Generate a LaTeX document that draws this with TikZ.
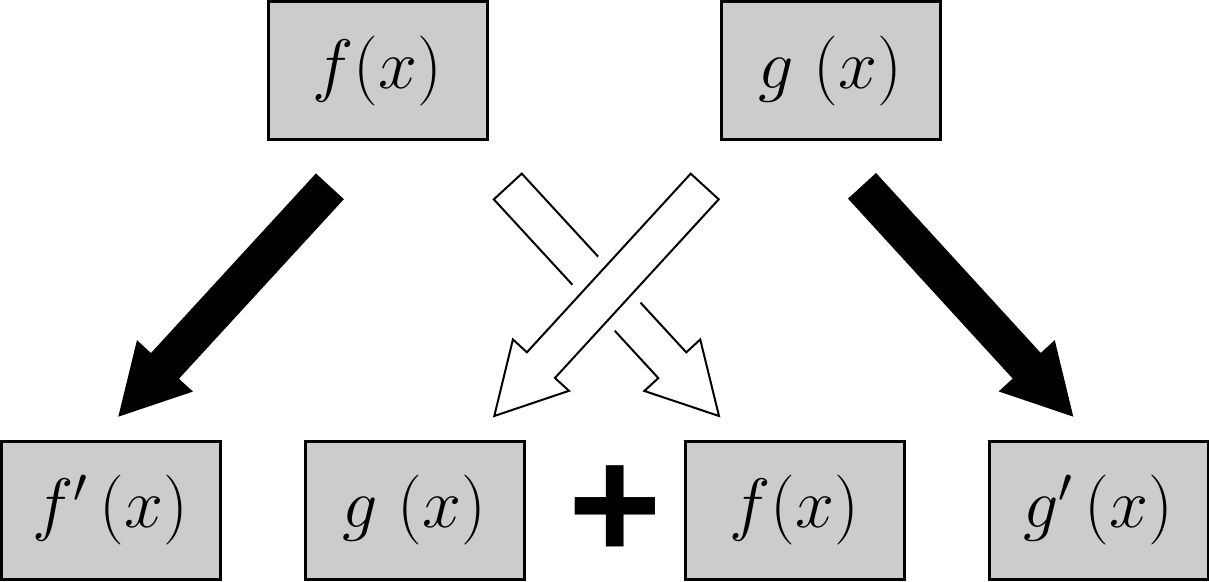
\RequirePackage{fix-cm}
\documentclass[tikz,border=0pt]{standalone}
\usepackage{fontspec}
\newfontfamily\plusfont{Liberation Sans}
\usetikzlibrary{calc}
\definecolor{boxgray}{HTML}{CCCCCC}
\newcommand\blockarrow[3]{%
  \path let \p1=($(#3)-(#2)$) in \pgfextra{\pgfmathsetmacro\baang{atan2(\y1,\x1)}\pgfmathsetmacro\balen{veclen(\x1,\y1)}\xdef\baang{\baang}\xdef\balen{\balen}};
  \path[#1,shift={(#2)},rotate=\baang] (0pt,9.5pt) -- ({\balen pt-34.5pt},9.5pt) -- ({\balen pt-34.5pt},19pt) -- (\balen pt,0pt) -- ({\balen pt-34.5pt},-19pt) -- ({\balen pt-34.5pt},-9.5pt) -- (0pt,-9.5pt) -- cycle;}
\tikzset{
  fbox/.style={draw, line width=1.5pt, fill=boxgray, minimum width=109.5pt, minimum height=69pt, inner sep=0pt, font=\fontsize{35}{40}\selectfont},
  blackarrow/.style={fill=black},
  hollowarrow/.style={fill=white, draw=black, line width=1pt, line join=miter},
  halo/.style={draw=white, line width=12pt, line join=round},
}
\begin{document}
\begin{tikzpicture}[x=0.5pt,y=-0.5pt]
\useasboundingbox (0,0) rectangle (1209,582);
% boxes
\node[fbox] (ftop) at (377.5,71) {$f(x)$};
\node[fbox] (gtop) at (830.5,71) {$g\;(x)$};
\node[fbox] (fpr) at (110.5,510) {$f'\,(x)$};
\node[fbox] (gbot) at (414.5,510) {$g\;(x)$};
\node[fbox] (fbot) at (794.5,510) {$f(x)$};
\node[fbox] (gpr) at (1098.5,510) {$g'\,(x)$};
\node[inner sep=4pt, font=\plusfont\bfseries\fontsize{80}{80}\selectfont] (plus) at (615,512.5) {+};
% arrow end points
\coordinate (blt) at (329.9,186.3);
\coordinate (blh) at (118.3,416.7);
\coordinate (brt) at (862,185.8);
\coordinate (brh) at (1073.3,416.7);
\coordinate (hlt) at (704.7,186.5);
\coordinate (hlh) at (494.3,416);
\coordinate (hrt) at (507.8,186.5);
\coordinate (hrh) at (719,416);
% arrows
\blockarrow{blackarrow}{blt}{blh}
\blockarrow{blackarrow}{brt}{brh}
\blockarrow{hollowarrow}{hrt}{hrh}
\blockarrow{halo}{hlt}{hlh}
\blockarrow{hollowarrow}{hlt}{hlh}
\end{tikzpicture}
\end{document}
